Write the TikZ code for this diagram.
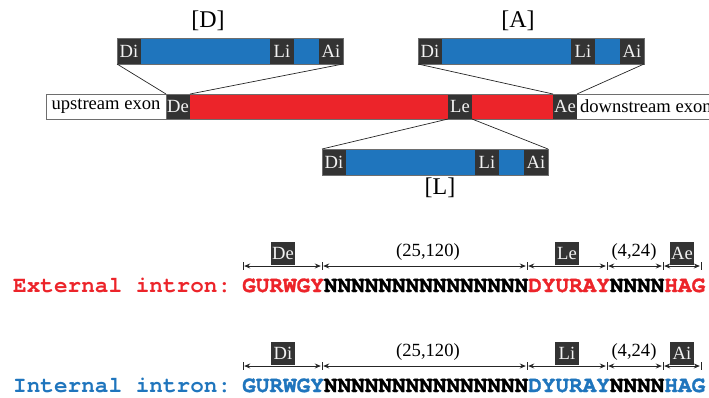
\documentclass[tikz,border=0pt]{standalone}
\usepackage{fontspec}
\setmainfont{Liberation Serif}
\newfontfamily\monofam{TeX Gyre Cursor}
\newfontfamily\seqfam{TeX Gyre Cursor}[BoldFeatures={FakeBold=1.5}]
\usetikzlibrary{arrows.meta}

\definecolor{extred}{RGB}{236,36,42}
\definecolor{intblue}{RGB}{31,117,189}
\definecolor{tagdark}{RGB}{51,51,51}
\definecolor{tagtext}{RGB}{242,242,242}
\definecolor{edgegray}{RGB}{110,110,110}

\newcommand\labfont{\fontsize{18.6}{20}\selectfont}
\newcommand\bracketfont{\fontsize{24}{26}\selectfont}
\newcommand\monolab{\monofam\bfseries\fontsize{22.7}{24}\selectfont}
\newcommand\seqlab{\seqfam\bfseries\fontsize{22.7}{24}\selectfont}

% one intron bar: Di | blue | Li | blue | Ai, anchored at its top-left corner
\newcommand\intronbar[3]{%
  \node[tag] (#1Di) at (#2,#3) {Di};
  \node[blueseg, minimum width=129] (#1b1) at (#1Di.north east) {};
  \node[tag] (#1Li) at (#1b1.north east) {Li};
  \node[blueseg, minimum width=25] (#1b2) at (#1Li.north east) {};
  \node[tag] (#1Ai) at (#1b2.north east) {Ai};
  \draw[outline] (#1Di.north west) rectangle (#1Ai.south east);
}

\begin{document}
\begin{tikzpicture}[x=1pt, y=-1pt,
  seg/.style={rectangle, inner sep=0pt, outer sep=0pt, minimum height=26, anchor=north west},
  tag/.style={seg, fill=tagdark, text=tagtext, minimum width=24, font=\labfont},
  blueseg/.style={seg, fill=intblue},
  redseg/.style={seg, fill=extred, minimum height=25},
  exon/.style={seg, fill=white, minimum height=25, font=\labfont},
  outline/.style={draw=edgegray, line width=0.8pt},
  conn/.style={draw=black!85, line width=0.7pt},
  bracket/.style={inner sep=0pt, font=\bracketfont},
  dimarrow/.style={draw=black!85, line width=0.8pt,
    {Stealth[length=6pt,width=5pt]}-{Stealth[length=6pt,width=5pt]},
    shorten <=1.2pt, shorten >=1.2pt},
  tick/.style={draw=black!85, line width=0.8pt},
  rangelab/.style={inner sep=0pt, font=\labfont},
]
\useasboundingbox (0,0) rectangle (709,397);
\clip (0,0) rectangle (709,397);

% ---- main transcript bar ----
\node[exon, minimum width=120] (up) at (46,94) {upstream exon};
\node[tag, minimum height=25] (De) at (up.north east) {De};
\node[redseg, minimum width=258] (r1) at (De.north east) {};
\node[tag, minimum height=25] (Le) at (r1.north east) {Le};
\node[redseg, minimum width=81] (r2) at (Le.north east) {};
\node[tag, minimum height=25] (Ae) at (r2.north east) {Ae};
\node[exon, inner xsep=3pt] (down) at (Ae.north east) {downstream exon};
\draw[outline] (up.north west) rectangle (down.south east);
\draw[outline] (up.north east) -- (up.south east);

% ---- inserted introns ----
\intronbar{D}{117}{38}
\intronbar{A}{418}{38}
\intronbar{L}{322}{149}

\node[bracket] (labD) at (208,21) {[D]};
\node[bracket] (labA) at (518,21) {[A]};
\node[bracket] (labL) at (440,188) {[L]};

% ---- insertion sites ----
\draw[conn] (DDi.south west) -- (De.north west);
\draw[conn] (DAi.south east) -- (De.north east);
\draw[conn] (ADi.south west) -- (Ae.north west);
\draw[conn] (AAi.south east) -- (Ae.north east);
\draw[conn] (Le.south west) -- (LDi.north west);
\draw[conn] (Le.south east) -- (LAi.north east);

% ---- consensus sequences ----
\foreach \r/\dy/\col/\ta/\tb/\tc/\word in
   {e/0/extred/De/Le/Ae/External, i/100/intblue/Di/Li/Ai/Internal}{
  \foreach \k/\xx in {0/243,1/322,2/527,3/607,4/663,5/701}
    \coordinate (\r\k) at (\xx,{266+\dy});
  \draw[dimarrow] (\r0) -- (\r1);
  \draw[dimarrow] (\r1) -- (\r2);
  \draw[dimarrow] (\r2) -- (\r3);
  \draw[dimarrow] (\r3) -- (\r4);
  \draw[dimarrow] (\r4) -- (\r5);
  \foreach \k in {0,...,5}
    \draw[tick] ([yshift=4pt]\r\k) -- ([yshift=-4pt]\r\k);
  \node[tag, minimum height=23, anchor=south] (\r ta) at (283,{265+\dy}) {\ta};
  \node[tag, minimum height=23, anchor=south] (\r tb) at (567,{265+\dy}) {\tb};
  \node[tag, minimum height=23, anchor=south] (\r tc) at (682,{265+\dy}) {\tc};
  \node[rangelab] (\r ra) at (428,{252+\dy}) {(25,120)};
  \node[rangelab] (\r rb) at (634,{252+\dy}) {(4,24)};
  \node[anchor=base west, inner sep=0pt, text=\col, font=\monolab] (\r lab)
    at (13,{292+\dy}) {\word\ intron:};
  \node[anchor=base west, inner sep=0pt, font=\seqlab] (\r seq) at (242,{292+\dy})
    {\textcolor{\col}{GURWGY}NNNNNNNNNNNNNNN\textcolor{\col}{DYURAY}NNNN\textcolor{\col}{HAG}};
}
\end{tikzpicture}
\end{document}
